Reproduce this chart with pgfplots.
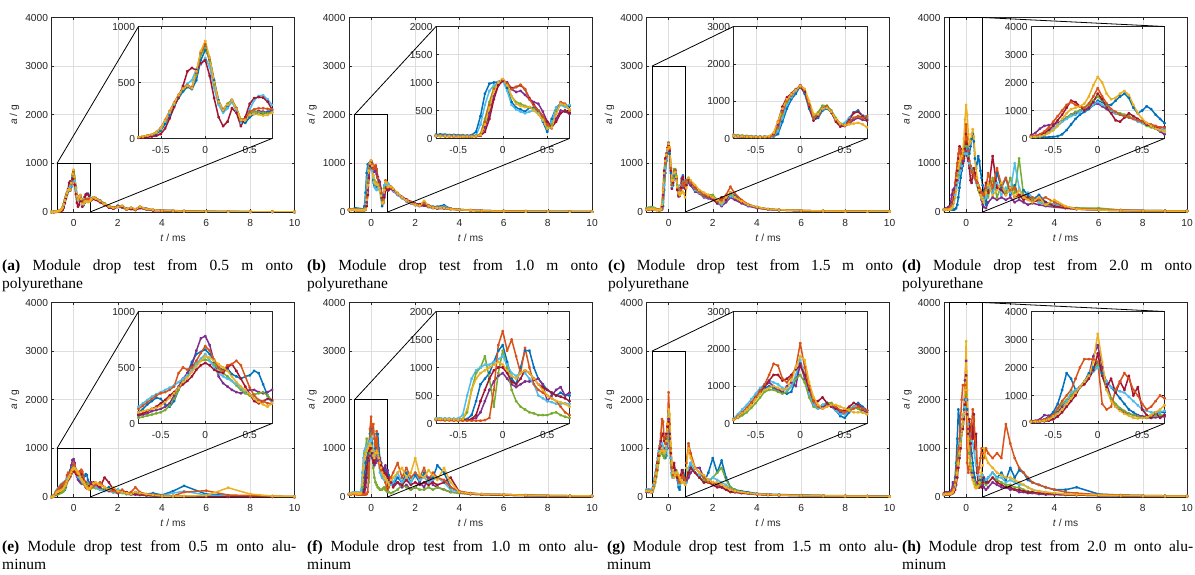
\documentclass[border=0pt]{standalone}
\usepackage{fontspec}
\setmainfont{Liberation Serif}
\newfontfamily\lsans{Liberation Sans}
\usepackage{pgfplots}
\usepackage{pgfplotstable}
\pgfplotsset{compat=1.18}

\definecolor{mB}{RGB}{0,114,189}
\definecolor{mO}{RGB}{217,83,25}
\definecolor{mY}{RGB}{237,177,32}
\definecolor{mP}{RGB}{126,47,142}
\definecolor{mG}{RGB}{119,172,48}
\definecolor{mC}{RGB}{77,190,238}
\definecolor{mR}{RGB}{162,20,47}

\pgfplotstableread{
t b p g c r o y
-1.0 0 0 0 0 0 0 0
-0.9 0 0 0 0 0 0 0
-0.8 5 8 5 6 4 6 5
-0.75 8 12 10 10 6 12 12
-0.7 12 18 15 16 8 18 18
-0.65 18 25 22 24 12 26 26
-0.6 25 35 32 32 18 36 36
-0.55 40 55 50 52 25 58 56
-0.5 70 90 85 88 40 95 92
-0.45 130 155 150 150 90 165 160
-0.4 210 235 230 230 180 245 240
-0.35 290 310 305 305 280 320 315
-0.3 360 380 375 375 370 390 385
-0.25 420 440 440 445 470 450 445
-0.2 460 470 470 490 600 475 470
-0.15 440 450 455 520 630 455 450
-0.1 520 580 570 620 610 590 600
-0.05 700 760 750 660 670 770 780
0 790 820 810 720 700 840 870
0.05 720 700 690 640 560 710 720
0.1 520 490 480 450 360 500 500
0.15 340 320 320 300 190 330 330
0.2 250 250 255 230 110 260 255
0.25 280 300 310 270 150 300 300
0.3 330 340 345 330 270 345 340
0.35 270 260 270 240 230 270 265
0.4 150 160 170 140 110 165 165
0.45 140 170 180 180 190 175 165
0.5 190 220 230 260 310 240 210
0.55 220 240 240 340 360 260 220
0.6 230 245 235 380 370 270 215
0.65 220 240 230 385 365 270 205
0.7 240 230 225 350 330 265 210
0.75 250 235 230 300 260 260 230
0.8 270 260 255 280 240 270 260
0.9 300 290 285 290 270 300 300
1.0 290 280 270 270 250 280 275
1.2 240 220 230 220 200 230 230
1.4 170 160 175 165 150 170 165
1.6 120 100 130 110 90 110 115
1.8 80 70 95 85 70 95 85
2.0 130 100 120 110 120 110 105
2.2 110 90 100 120 110 125 130
2.4 60 50 70 60 65 55 60
2.6 80 70 75 90 60 85 90
2.8 55 45 50 50 40 60 55
3.0 100 80 90 95 85 110 105
3.3 70 50 60 60 55 65 60
3.6 40 35 45 40 30 45 45
4.0 35 30 30 30 25 35 30
4.5 30 20 25 25 20 25 25
5 20 15 15 15 15 15 15
6 12 10 10 10 8 10 10
7 8 6 8 6 6 8 8
8 5 4 5 5 4 5 5
9 3 2 3 3 2 3 3
10 0 0 0 0 0 0 0
}\tabA

\pgfplotstableread{
t b p g c r o y
-1.0 50 40 45 50 40 45 40
-0.9 55 45 50 50 45 50 45
-0.8 60 45 50 55 45 50 45
-0.75 70 45 50 55 45 50 45
-0.7 75 45 50 55 45 45 40
-0.65 70 40 45 50 40 45 40
-0.6 65 40 45 50 40 45 40
-0.55 65 40 45 50 40 40 40
-0.5 60 40 40 45 40 40 35
-0.45 60 35 40 45 35 40 35
-0.4 55 35 40 45 35 40 35
-0.35 60 35 40 45 35 40 35
-0.3 120 40 45 60 40 45 40
-0.25 400 60 80 250 50 70 60
-0.2 800 200 350 600 120 300 250
-0.15 980 450 650 850 350 600 550
-0.1 1000 750 900 950 700 880 850
-0.05 1010 950 1000 990 950 1000 1000
0 1050 1030 1050 1030 1030 1060 1060
0.05 900 1000 950 850 980 980 950
0.1 650 880 750 600 900 880 750
0.15 550 830 650 520 920 920 620
0.2 520 850 620 480 950 960 580
0.25 480 780 580 450 880 880 560
0.3 550 700 560 480 720 700 560
0.35 550 650 520 500 600 580 500
0.4 480 620 450 450 500 500 430
0.45 300 480 350 320 400 400 330
0.5 120 300 200 180 300 250 180
0.55 350 200 250 300 200 180 200
0.6 550 350 500 550 300 450 450
0.65 620 500 600 600 450 650 620
0.7 600 480 580 560 500 620 600
0.75 580 440 520 600 460 500 520
0.8 560 450 520 560 480 520 530
0.9 520 480 500 500 500 500 520
1.0 450 430 460 440 460 470 480
1.2 380 350 370 360 380 390 380
1.4 300 290 300 280 310 300 300
1.6 240 220 250 230 260 240 240
1.8 200 180 190 190 210 190 190
2.0 170 140 160 150 170 150 150
2.2 150 120 140 140 160 130 130
2.4 200 130 150 170 140 180 230
2.6 130 100 110 120 120 140 120
2.8 110 80 90 100 90 100 90
3.0 110 70 80 90 85 90 85
3.3 140 70 80 110 80 90 80
3.6 70 60 60 70 60 70 60
4.0 50 45 45 50 45 50 45
4.5 40 35 35 40 35 40 35
5 30 25 30 30 25 30 25
6 20 15 20 20 15 20 15
7 15 10 15 15 10 15 10
8 12 10 10 10 10 10 10
9 10 8 8 8 8 8 8
10 8 6 6 6 6 6 6
}\tabB

\pgfplotstableread{
t b p g c r o y
-1.0 60 50 80 60 50 50 50
-0.9 70 55 90 70 55 60 60
-0.8 80 60 100 80 60 70 65
-0.75 80 60 100 80 60 70 70
-0.7 70 55 90 75 55 60 60
-0.65 60 50 80 65 50 55 55
-0.6 55 50 70 60 50 50 50
-0.55 50 45 60 55 45 45 45
-0.5 50 45 55 50 45 45 45
-0.45 45 40 50 50 40 40 40
-0.4 45 40 50 50 45 40 45
-0.35 45 45 50 50 50 45 60
-0.3 50 80 70 60 120 70 150
-0.25 120 350 250 200 450 300 450
-0.2 450 750 650 550 850 700 800
-0.15 800 1000 950 900 1100 1000 1050
-0.1 1050 1150 1150 1100 1200 1150 1180
-0.05 1200 1300 1300 1280 1320 1300 1300
0 1400 1420 1400 1430 1380 1420 1400
0.05 1200 1300 1280 1250 1250 1300 1330
0.1 800 900 900 850 850 900 1000
0.15 500 550 600 520 480 560 650
0.2 550 650 700 600 600 650 650
0.25 750 820 880 780 800 820 800
0.3 800 850 880 820 850 850 820
0.35 700 700 750 700 700 720 720
0.4 500 500 550 500 450 500 520
0.45 350 350 400 380 320 380 400
0.5 380 330 380 420 350 360 350
0.55 550 400 450 550 500 450 380
0.6 700 500 550 680 680 550 400
0.65 750 550 600 720 720 600 420
0.7 600 500 550 620 600 550 380
0.75 550 480 520 600 500 600 300
0.8 600 550 600 650 550 650 500
0.9 650 600 650 700 650 700 700
1.0 550 550 600 600 600 600 650
1.2 450 420 480 450 500 480 550
1.4 420 380 400 400 420 420 450
1.6 350 300 320 330 340 360 400
1.8 300 280 350 290 300 320 350
2.0 280 250 350 270 260 300 300
2.2 180 200 250 200 180 220 250
2.4 150 120 200 150 300 250 180
2.6 300 200 250 250 250 350 300
2.8 380 300 350 320 400 520 400
3.0 350 250 300 300 300 380 300
3.3 200 180 220 200 200 250 220
3.6 140 120 150 140 150 160 150
4.0 100 80 100 90 90 100 100
4.5 60 50 60 60 55 60 60
5 45 40 45 40 40 45 45
6 30 25 30 25 25 30 30
7 20 15 20 20 15 20 20
8 15 12 15 12 12 15 15
9 12 10 12 10 10 12 12
10 10 8 10 8 8 10 10
}\tabC

\pgfplotstableread{
t b p g c r o y
-1.0 50 60 50 50 40 50 50
-0.9 60 80 60 50 50 60 50
-0.8 50 100 60 50 50 60 50
-0.75 50 120 60 50 60 70 50
-0.7 50 200 70 60 80 100 60
-0.65 50 350 80 80 120 150 80
-0.6 50 450 120 150 200 250 120
-0.55 50 480 200 250 300 400 200
-0.5 60 500 300 350 450 600 300
-0.45 80 550 450 500 650 800 450
-0.4 150 650 600 600 850 1000 700
-0.35 300 750 750 700 1100 1200 900
-0.3 500 850 850 800 1350 1300 1050
-0.25 700 900 950 850 1300 1200 1100
-0.2 850 1000 1000 950 1150 1150 1150
-0.15 950 1050 1100 1000 1000 1100 1250
-0.1 1050 1100 1200 1100 1100 1250 1500
-0.05 1200 1200 1350 1200 1300 1500 1900
0 1350 1250 1500 1300 1600 1800 2200
0.05 1300 1150 1350 1200 1400 1500 2000
0.1 1200 1050 1150 1100 1100 1250 1600
0.15 1200 950 1000 1000 900 1050 1400
0.2 1350 900 950 900 650 950 1450
0.25 1500 850 900 850 600 850 1600
0.3 1600 800 850 800 750 800 1700
0.35 1450 750 800 750 900 750 1550
0.4 1100 700 700 700 800 700 1200
0.45 900 650 650 600 700 650 900
0.5 1000 600 550 550 600 600 700
0.55 1150 550 450 500 500 550 550
0.6 1050 450 400 450 450 500 450
0.65 850 350 350 400 400 450 350
0.7 700 250 300 350 400 400 300
0.75 550 150 250 300 400 380 250
0.8 300 100 200 250 350 350 200
0.9 150 80 450 300 600 500 400
1.0 600 200 300 500 400 800 600
1.2 400 300 700 400 1150 500 350
1.4 800 250 300 600 500 900 450
1.6 500 300 550 350 450 550 600
1.8 700 250 400 500 350 700 350
2.0 350 300 700 400 500 450 500
2.2 550 200 400 1000 300 500 300
2.4 300 250 1100 500 350 300 450
2.6 450 200 350 300 250 350 300
2.8 350 150 300 400 300 250 250
3.0 250 180 250 300 200 300 200
3.3 350 150 200 200 250 250 300
3.6 200 120 150 180 200 300 150
4.0 150 100 120 150 120 200 250
4.5 100 80 100 80 80 100 120
5 80 60 80 60 60 70 60
6 60 40 80 50 40 50 40
7 40 30 40 40 30 40 30
8 30 25 30 30 25 30 25
9 25 20 25 25 20 25 20
10 20 15 20 20 15 20 15
}\tabD

\pgfplotstableread{
t b p g c r o y
-1.0 0 0 0 0 0 0 0
-0.9 30 20 10 40 20 30 20
-0.8 80 60 40 120 60 100 70
-0.75 100 70 50 150 80 130 100
-0.7 130 80 60 180 90 160 110
-0.65 170 90 70 210 110 190 120
-0.6 200 110 80 240 130 220 130
-0.55 230 120 90 260 150 250 140
-0.5 220 130 100 280 180 270 160
-0.45 170 150 120 300 210 280 190
-0.4 150 180 160 320 250 300 230
-0.35 200 250 220 340 280 330 270
-0.3 300 330 300 370 320 450 320
-0.25 380 400 380 400 350 500 370
-0.2 450 450 430 430 380 480 410
-0.15 550 520 480 480 420 500 460
-0.1 620 650 540 530 480 560 510
-0.05 640 760 560 580 520 630 560
0 660 780 570 620 540 690 600
0.05 620 700 560 560 520 650 590
0.1 560 550 530 500 480 570 560
0.15 500 420 490 450 460 500 530
0.2 480 360 450 420 450 470 500
0.25 490 330 420 400 500 520 470
0.3 440 300 380 380 530 530 420
0.35 420 280 340 350 470 560 370
0.4 400 270 300 320 400 520 330
0.45 420 280 270 290 330 420 300
0.5 430 300 250 260 260 320 260
0.55 470 300 260 220 200 250 220
0.6 450 280 270 210 180 210 190
0.65 350 270 280 200 200 200 170
0.7 250 280 250 220 220 180 150
0.75 200 300 200 200 210 180 180
0.8 220 300 180 220 250 200 220
0.9 250 250 200 250 300 220 280
1.0 200 200 180 200 250 250 300
1.2 180 180 150 150 200 300 250
1.4 150 150 180 120 400 200 200
1.6 200 120 150 150 300 150 150
1.8 100 100 100 100 150 120 200
2.0 150 80 100 150 100 100 120
2.2 100 100 80 100 120 150 100
2.4 80 60 60 80 100 80 80
2.6 60 50 50 60 60 100 60
2.8 100 50 80 80 60 200 100
3.0 80 40 60 60 50 100 80
3.3 60 30 40 50 40 60 60
3.6 80 20 30 50 30 50 40
4.0 40 20 20 30 20 30 20
4.5 120 15 15 80 15 20 20
5 230 10 10 120 10 100 20
6 60 10 10 40 10 130 30
7 30 5 10 20 5 40 190
8 20 5 5 10 5 30 60
9 10 5 5 5 5 20 20
10 5 0 5 0 0 10 10
}\tabE

\pgfplotstableread{
t b p g c r o y
-1.0 60 50 60 70 50 50 60
-0.9 80 60 70 80 60 60 70
-0.8 90 70 80 90 70 60 80
-0.75 90 70 80 90 70 60 80
-0.7 90 70 80 90 70 60 80
-0.65 85 65 75 85 65 55 75
-0.6 85 65 75 85 65 55 75
-0.55 80 60 70 85 60 50 70
-0.5 80 60 70 90 60 50 70
-0.45 80 60 80 150 60 50 80
-0.4 80 60 200 500 60 50 250
-0.35 150 70 600 800 80 50 600
-0.3 400 100 900 950 150 50 800
-0.25 700 200 1000 1000 400 50 900
-0.2 800 400 1200 1050 600 60 950
-0.15 900 600 800 1050 800 100 1000
-0.1 1100 750 300 1100 950 600 1050
-0.05 1300 850 900 1150 1000 1400 1100
0 1400 900 1300 1200 1000 1650 1050
0.05 1100 800 1000 1050 900 1300 950
0.1 800 700 600 900 750 1500 850
0.15 700 650 400 850 700 1200 800
0.2 1000 700 300 900 800 900 900
0.25 1300 750 250 900 950 1350 950
0.3 1300 750 200 800 900 1000 900
0.35 1000 780 180 700 800 700 800
0.4 800 800 150 500 700 600 700
0.45 700 700 150 450 650 550 600
0.5 600 400 150 400 600 500 500
0.55 550 500 180 380 550 450 450
0.6 500 600 200 350 500 400 400
0.65 550 650 150 350 480 300 380
0.7 500 500 120 360 450 200 350
0.75 500 550 100 350 400 150 300
0.8 450 400 100 300 350 200 250
0.9 350 300 80 250 300 400 350
1.0 250 250 100 300 200 500 400
1.2 400 300 150 500 300 700 500
1.4 300 200 250 300 250 400 600
1.6 500 250 200 400 350 600 400
1.8 300 150 150 300 250 400 500
2.0 450 200 200 500 300 500 800
2.2 300 300 150 350 250 400 450
2.4 500 200 150 400 300 600 400
2.6 350 400 200 300 250 350 550
2.8 400 250 150 350 300 500 450
3.0 650 200 200 400 250 400 350
3.3 500 150 150 300 300 350 600
3.6 200 100 100 150 400 200 300
4.0 100 80 80 100 100 120 100
4.5 80 60 60 70 60 80 70
5 60 50 50 60 50 60 60
6 50 40 40 50 40 50 50
7 40 30 30 40 30 40 35
8 30 25 25 30 25 30 30
9 25 20 20 25 20 25 25
10 20 15 15 20 15 20 20
}\tabF

\pgfplotstableread{
t b p g c r o y
-1.0 150 100 120 150 120 130 120
-0.9 150 100 120 150 120 130 120
-0.8 140 100 110 150 110 120 110
-0.75 120 100 100 130 100 110 100
-0.7 200 180 150 250 180 200 180
-0.65 300 280 220 380 280 300 280
-0.6 400 400 300 500 400 420 380
-0.55 550 550 420 650 550 560 500
-0.5 700 700 550 800 700 720 650
-0.45 850 900 700 950 850 880 800
-0.4 950 1000 850 1050 1000 1050 900
-0.35 1000 1100 900 1150 1150 1300 950
-0.3 950 1000 900 1100 1300 1600 1000
-0.25 900 900 850 1050 1300 1550 950
-0.2 850 850 800 950 1150 1200 900
-0.15 800 1000 850 900 1200 1100 950
-0.1 850 1100 1000 1000 1300 1250 1150
-0.05 1200 1000 1200 1300 1450 1500 1500
0 1600 1600 1300 1700 1550 2150 1800
0.05 1300 1200 1100 1300 1300 1500 1700
0.1 800 800 700 800 900 1000 1100
0.15 500 500 450 500 600 600 700
0.2 400 400 400 400 600 450 500
0.25 450 450 500 500 700 400 400
0.3 500 500 550 550 550 450 450
0.35 450 500 550 450 450 500 500
0.4 350 400 450 350 400 450 500
0.45 200 300 350 250 350 350 450
0.5 150 250 300 250 350 300 400
0.55 300 350 400 350 450 350 350
0.6 450 450 450 450 550 400 300
0.65 550 400 400 500 500 450 300
0.7 450 350 300 400 400 400 300
0.75 350 300 250 350 350 350 250
0.8 300 300 300 300 350 700 600
0.9 500 400 500 600 500 1100 1000
1.0 700 500 600 700 600 900 800
1.2 500 600 500 500 500 600 600
1.4 400 600 400 450 400 500 500
1.6 300 400 350 400 300 400 450
1.8 500 350 300 350 300 300 350
2.0 800 300 400 400 250 300 300
2.2 500 250 500 350 200 250 300
2.4 750 200 600 300 200 250 250
2.6 400 150 350 250 150 200 200
2.8 200 120 200 150 100 150 150
3.0 150 100 150 120 100 120 120
3.3 120 80 100 100 80 100 100
3.6 100 70 80 80 70 80 80
4.0 70 60 60 60 50 60 60
4.5 60 50 50 50 40 50 50
5 50 40 40 40 35 40 40
6 40 30 30 30 30 30 30
7 30 25 25 25 25 25 25
8 25 20 20 20 20 20 20
9 20 15 15 15 15 15 15
10 15 10 10 10 10 10 10
}\tabG

\pgfplotstableread{
t b p g c r o y
-1.0 50 80 60 50 40 60 50
-0.9 60 100 70 60 50 70 60
-0.8 60 100 70 60 50 70 60
-0.75 60 90 60 60 50 70 60
-0.7 70 100 70 60 60 80 70
-0.65 100 150 80 80 70 100 80
-0.6 150 300 120 100 80 150 100
-0.55 250 280 200 150 100 200 150
-0.5 400 250 300 200 150 300 250
-0.45 700 400 500 350 250 550 350
-0.4 1200 600 700 500 400 800 500
-0.35 1800 800 850 800 600 1000 700
-0.3 1600 1000 1000 1100 800 1200 900
-0.25 1200 1150 1150 1200 1000 1600 1100
-0.2 1300 1300 1300 1300 1300 2000 1300
-0.15 1500 1500 1500 1500 1400 2300 1500
-0.1 1800 1700 1700 1700 1600 2300 1700
-0.05 2000 2400 1900 1850 1900 2300 2200
0 2200 2800 2100 2000 2500 2200 3200
0.05 1800 2000 1700 1700 1700 700 2200
0.1 1500 1400 1200 1500 1300 500 1200
0.15 1300 900 900 1300 1600 600 800
0.2 1100 600 700 1200 1100 1200 600
0.25 900 500 550 1150 1500 1500 450
0.3 700 400 450 1100 1200 1800 350
0.35 500 350 350 950 1700 1600 280
0.4 400 300 300 800 1000 1200 200
0.45 300 280 250 650 1300 1000 180
0.5 250 250 200 500 500 700 200
0.55 250 200 200 450 300 500 220
0.6 300 200 250 400 200 600 300
0.65 350 220 280 400 400 800 400
0.7 400 240 300 420 200 1000 500
0.75 400 250 300 450 300 900 650
0.8 350 200 300 400 400 800 1000
0.9 300 150 250 350 300 1000 800
1.0 400 200 300 400 300 900 700
1.2 500 300 400 500 400 800 600
1.4 400 250 350 400 300 900 500
1.6 500 200 300 400 250 800 450
1.8 350 200 250 300 200 1500 400
2.0 600 150 250 350 200 1100 400
2.2 400 150 200 300 150 800 350
2.4 550 100 200 250 150 600 300
2.6 500 100 150 250 120 500 250
2.8 350 80 120 200 100 400 200
3.0 300 80 100 150 100 300 150
3.3 250 60 80 120 80 250 120
3.6 200 50 70 100 70 200 100
4.0 150 50 60 80 60 150 80
4.5 150 40 50 60 50 100 60
5 200 40 40 50 40 80 50
6 60 30 30 40 30 50 40
7 40 25 25 30 25 40 30
8 30 20 20 25 20 30 25
9 25 15 15 20 15 25 20
10 20 10 10 15 10 20 15
}\tabH

\pgfplotsset{
  common/.style={scale only axis, anchor=south west,
    axis line style={black!85, line width=0.5pt},
    every tick/.style={black!85, line width=0.5pt},
    major tick length=2.5pt, tick align=inside,
    grid=major, major grid style={draw=black!13, line width=0.5pt},
    tick label style={font=\lsans\fontsize{10.2}{12}\selectfont, text=black!85},
    xticklabel style={yshift=-4pt},
    /pgf/number format/assume math mode=true,
    /pgf/number format/1000 sep={},
    scaled ticks=false},
  mainax/.style={common, width=243pt, height=194.5pt,
    xmin=-1, xmax=10, ymin=0, ymax=4000,
    xtick={0,2,4,6,8,10}, ytick={0,1000,2000,3000,4000},
    xlabel={\textit{t} / ms}, ylabel={\textit{a} / g},
    label style={font=\lsans\fontsize{10.2}{12}\selectfont, text=black!85},
    xlabel style={at={(axis description cs:0.5,-0.135)}, anchor=center},
    ylabel style={at={(axis description cs:-0.152,0.5)}, anchor=center}},
  inax/.style={common, width=133.5pt, height=112pt,
    xmin=-0.75, xmax=0.75, ymin=0, xtick={-0.5,0,0.5},
    axis background/.style={fill=white}},
  ser/.style={line width=1.5pt, line join=round, mark=*, mark size=0.75pt, color=#1},
}

\newcommand\plotall[1]{%
  \addplot[ser=mB] table[x=t,y=b]{#1};
  \addplot[ser=mP] table[x=t,y=p]{#1};
  \addplot[ser=mG] table[x=t,y=g]{#1};
  \addplot[ser=mC] table[x=t,y=c]{#1};
  \addplot[ser=mR] table[x=t,y=r]{#1};
  \addplot[ser=mO] table[x=t,y=o]{#1};
  \addplot[ser=mY] table[x=t,y=y]{#1};
}

% #1 id, #2 x, #3 y, #4 table, #5 box ymax, #6 inset ytick step, #7 west/east
\newcommand\panel[7]{%
  \begin{axis}[mainax, name=#1m, at={(#2pt,#3pt)}]
    \plotall{#4}
    \draw[black, line width=0.9pt] (axis cs:-0.75,0) rectangle (axis cs:0.75,#5);
    \coordinate (#1west) at (axis cs:-0.75,#5);
    \coordinate (#1east) at (axis cs:0.75,#5);
    \coordinate (#1se) at (axis cs:0.75,0);
  \end{axis}
  \begin{axis}[inax, name=#1i, at={(#2pt+87pt,#3pt+73.5pt)}, ymax=#5, ytick distance=#6]
    \plotall{#4}
  \end{axis}
  \draw[black, line width=0.8pt] (#1#7) -- (#1i.north #7);
  \draw[black, line width=0.8pt] (#1se) -- (#1i.south east);
}

\newcommand\capt[4]{%
  \node[anchor=north west, text width=#3pt, align=justify, inner sep=0pt,
        font=\fontsize{15.5}{18}\selectfont] at (#1pt,#2pt) {#4};
}

\begin{document}
\begin{tikzpicture}
\useasboundingbox (0,0) rectangle (1195pt,575pt);
\panel{a}{51.5}{363}{\tabA}{1000}{500}{west}
\panel{b}{349}{363}{\tabB}{2000}{500}{west}
\panel{c}{646.5}{363}{\tabC}{3000}{1000}{west}
\panel{d}{944}{363}{\tabD}{4000}{1000}{east}
\panel{e}{51.5}{78}{\tabE}{1000}{500}{west}
\panel{f}{349}{78}{\tabF}{2000}{500}{west}
\panel{g}{646.5}{78}{\tabG}{3000}{1000}{west}
\panel{h}{944}{78}{\tabH}{4000}{1000}{east}

\capt{2}{315.5}{291}{\textbf{(a)} Module drop test from 0.5 m onto\linebreak polyurethane}
\capt{307}{315.5}{291}{\textbf{(b)} Module drop test from 1.0 m onto\linebreak polyurethane}
\capt{608}{315.5}{285}{\textbf{(c)} Module drop test from 1.5 m onto\linebreak polyurethane}
\capt{902}{315.5}{290}{\textbf{(d)} Module drop test from 2.0 m onto\linebreak polyurethane}
\capt{2}{34.5}{294}{\textbf{(e)} Module drop test from 0.5 m onto alu-\linebreak minum}
\capt{307}{34.5}{291}{\textbf{(f)} Module drop test from 1.0 m onto alu-\linebreak minum}
\capt{607}{34.5}{291}{\textbf{(g)} Module drop test from 1.5 m onto alu-\linebreak minum}
\capt{902}{34.5}{291}{\textbf{(h)} Module drop test from 2.0 m onto alu-\linebreak minum}
\end{tikzpicture}
\end{document}
